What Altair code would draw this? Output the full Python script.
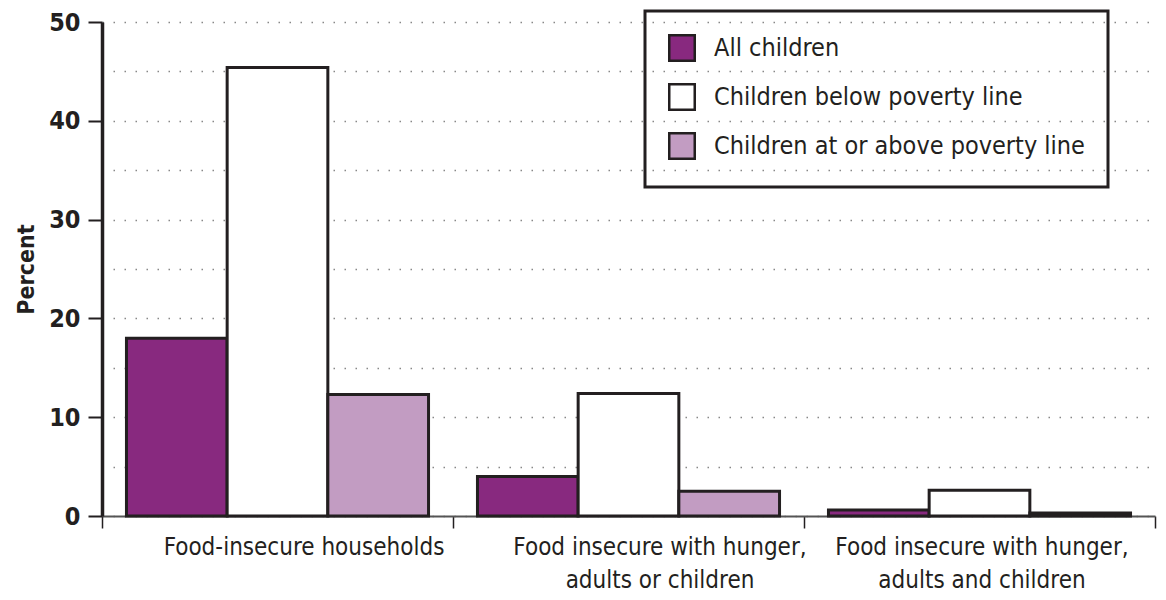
import altair as alt
import pandas as pd

categories = [
    "Food-insecure households",
    "Food insecure with hunger, adults or children",
    "Food insecure with hunger, adults and children",
]
label_lines = [
    ["Food-insecure households"],
    ["Food insecure with hunger,", "adults or children"],
    ["Food insecure with hunger,", "adults and children"],
]
series = ["All children", "Children below poverty line", "Children at or above poverty line"]
all_children = [18.0, 4.0, 0.6]
below_poverty = [45.4, 12.4, 2.6]
above_poverty = [12.3, 2.5, 0.3]
colors = ["#88297f", "#ffffff", "#c29cc2"]

rows = []
for i, c in enumerate(categories):
    for s, vals in zip(series, [all_children, below_poverty, above_poverty]):
        rows.append({"Category": c, "Series": s, "Percent": vals[i]})
df = pd.DataFrame(rows)

FONT = "Liberation Sans Narrow, DejaVu Sans Condensed, Roboto Condensed, sans-serif"
INK = "#231f20"

# multi-line label expression
parts = []
for c, lines in zip(categories, label_lines):
    arr = "[" + ",".join("'" + l + "'" for l in lines) + "]"
    parts.append(f"datum.value == '{c}' ? {arr}")
label_expr = " : ".join(parts) + " : datum.label"

label_offsets = [26, 31, 2]
offset_cond = {
    "condition": [
        {"test": f"datum.value == '{c}'", "value": o}
        for c, o in zip(categories, label_offsets)
    ],
    "value": 0,
}

chart = (
    alt.Chart(df)
    .mark_bar(stroke=INK, strokeWidth=3)
    .encode(
        x=alt.X(
            "Category:N",
            sort=categories,
            scale=alt.Scale(paddingInner=0, paddingOuter=0),
            axis=alt.Axis(
                title=None,
                labelAngle=0,
                labelExpr=label_expr,
                labelOffset=offset_cond,
                tickBand="extent",
                tickSize=12,
                tickWidth=1.5,
                tickColor=INK,
                domainColor="#555555",
                domainWidth=2,
                labelFont=FONT,
                labelFontSize=24,
                labelColor=INK,
                labelLineHeight=33,
                labelPadding=7,
                labelLimit=0,
            ),
        ),
        xOffset=alt.XOffset(
            "Series:N",
            sort=series,
            scale=alt.Scale(paddingInner=0, paddingOuter=0.243),
        ),
        y=alt.Y(
            "Percent:Q",
            scale=alt.Scale(domain=[0, 50], nice=False),
            axis=alt.Axis(
                title="Percent",
                values=list(range(0, 55, 5)),
                labelExpr="datum.value % 10 == 0 ? datum.label : ''",
                tickOpacity={"condition": {"test": "datum.value % 10 != 0", "value": 0}, "value": 1},
                tickSize=14,
                tickWidth=2,
                tickColor=INK,
                domainColor=INK,
                domainWidth=3.5,
                grid=True,
                gridDash=[1.5, 9.5],
                gridColor="#888888",
                gridWidth=1.5,
                labelFont=FONT,
                labelFontSize=25,
                labelFontWeight="bold",
                labelColor=INK,
                labelPadding=8,
                titleFont=FONT,
                titleFontSize=23,
                titleFontWeight="bold",
                titleColor=INK,
                titlePadding=10,
            ),
        ),
        fill=alt.Fill(
            "Series:N",
            sort=series,
            scale=alt.Scale(domain=series, range=colors),
            legend=alt.Legend(
                title=None,
                orient="none",
                legendX=543,
                legendY=-11,
                direction="vertical",
                strokeColor=INK,
                padding=23,
                symbolType="square",
                symbolSize=650,
                symbolStrokeColor=INK,
                symbolStrokeWidth=2.5,
                labelFont=FONT,
                labelFontSize=25,
                labelColor=INK,
                labelOffset=18,
                rowPadding=13,
                labelLimit=0,
            ),
        ),
    )
    .properties(width=1053, height=494, padding={"top": 9, "left": 15, "right": 5, "bottom": 5})
    .configure_view(stroke=None)
    .configure_legend(strokeWidth=3)
)

chart.save("out.html", embed_options={"renderer": "svg", "actions": False})
